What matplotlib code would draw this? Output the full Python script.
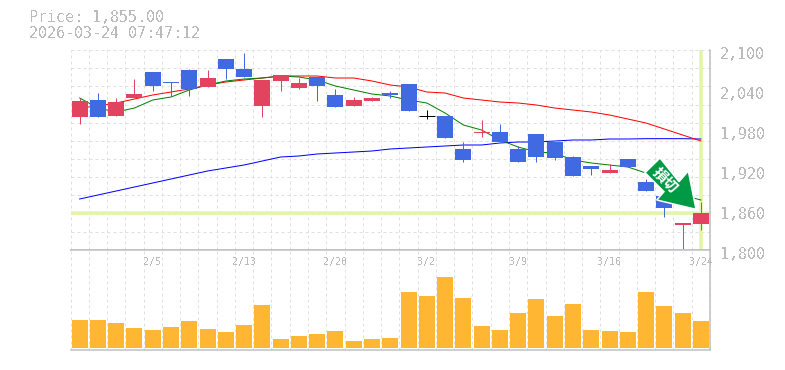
import matplotlib
matplotlib.use("Agg")
import matplotlib.pyplot as plt
from matplotlib.patches import Polygon
import numpy as np

plt.rcParams['font.family'] = ['DejaVu Sans Mono']
plt.rcParams['text.antialiased'] = False

W, H = 785, 370

# Daily prices
opens = [1999.5, 2025, 2001, 2028, 2067, 2052, 2070, 2044.5, 2086.5, 2071.5, 2016, 2053.5,
         2043, 2059.5, 2032.5, 2016, 2023.5, 2035.5, 2049, 2001, 2001, 1951.5, 1975.5, 1977,
         1951.5, 1974, 1962, 1939.5, 1926, 1915.5, 1936.5, 1902, 1881, 1837.5, 1839]
closes = [2023.5, 1999.5, 2022, 2034, 2046, 2050.5, 2041.5, 2058, 2071.5, 2059.5, 2055, 2062.5,
          2050.5, 2046, 2014.5, 2025, 2028, 2032.5, 2008.5, 2001, 1968, 1935, 1977, 1962,
          1932, 1939.5, 1938, 1911, 1921.5, 1920, 1924.5, 1888.5, 1863, 1840.5, 1855]
highs = [2028, 2035.5, 2028, 2056.5, 2067, 2052, 2071.5, 2070, 2086.5, 2095.5, 2055, 2062.5,
         2058, 2059.5, 2041.5, 2029.5, 2029.5, 2038.5, 2049, 2010, 2001, 1962, 1995, 1989,
         1956, 1974, 1962, 1941, 1926, 1929, 1936.5, 1906.5, 1881, 1840.5, 1872]
lows = [1989, 1999.5, 2001, 2028, 2038.5, 2031, 2031, 2044.5, 2056.5, 2059.5, 1999.5, 2038.5,
        2041.5, 2023.5, 2014.5, 2016, 2023.5, 2028, 2008.5, 1996.5, 1968, 1932, 1969.5, 1962,
        1932, 1932, 1935, 1911, 1912.5, 1915.5, 1924.5, 1888.5, 1849.5, 1801.5, 1830]

ma_green = [2028, 2013, 2007, 2013, 2025, 2029.5, 2040, 2047.5, 2053.5, 2056.5, 2058, 2061,
            2059.5, 2055, 2046, 2040, 2034, 2031, 2025, 2020.5, 2005.5, 1987.5, 1980, 1965,
            1954.5, 1947, 1945.5, 1935, 1930.5, 1927.5, 1924.5, 1915.5, 1900.5, 1882.5, 1875]
ma_red = [2013, 2016, 2020.5, 2026.5, 2032.5, 2037, 2041.5, 2047.5, 2052, 2055, 2058, 2061,
          2061, 2061, 2058, 2058, 2053.5, 2047.5, 2044.5, 2037, 2035.5, 2028, 2025, 2022,
          2020.5, 2017.5, 2013, 2010, 2007, 2002.5, 1996.5, 1990.5, 1981.5, 1972.5, 1963.5]
ma_blue = [1876.5, 1882.5, 1888.5, 1894.5, 1900.5, 1906.5, 1912.5, 1918.5, 1923, 1927.5, 1933.5, 1939.5,
           1941, 1944, 1945.5, 1947, 1948.5, 1951.5, 1953, 1954.5, 1956, 1957.5, 1957.5, 1960.5,
           1962, 1962, 1963.5, 1965, 1965, 1966.5, 1966.5, 1967, 1967, 1967, 1966.5]

volumes = [28, 28, 25, 20, 18, 21, 27, 19, 16, 23, 43, 9, 12, 14, 17, 7, 9, 10,
           56, 52, 71, 50, 22, 18, 35, 49, 32, 44, 18, 17, 16, 56, 42, 35, 27]

price_ticks = [2100, 2040, 1980, 1920, 1860, 1800]
price_labels = ['2,100', '2,040', '1,980', '1,920', '1,860', '1,800']
date_pos = [4, 9, 14, 19, 24, 29, 34]
date_labels = ['2/5', '2/13', '2/20', '3/2', '3/9', '3/16', '3/24']
last_price = 1855
last_index = 34

RED = '#E2435F'
BLUE = '#4169E1'
ORANGE = '#FFB733'
YELLOW = '#E3F5AA'
GRAY = '#C0C0C0'
TEXT = '#BBBBBB'
GRID = '#E0E0E0'
PX = 0.72  # one pixel in points at dpi 100


# Makes an axes from pixel positions measured from the top left corner
def pane(fig, left, top, right, bottom):
    return fig.add_axes([left / W, 1 - bottom / H, (right - left) / W, (bottom - top) / H])


def style(ax):
    ax.set_xlim(-0.5, len(volumes) - 0.5)
    ax.set_xticks(np.arange(-0.5, len(volumes), 1))
    ax.tick_params(length=0, labelbottom=False, labelleft=False)
    ax.set_axisbelow(True)
    ax.grid(axis='x', color=GRID, lw=PX, ls=(0, (3, 3)))
    for line in ax.get_xgridlines() + ax.get_ygridlines():
        line.set_clip_on(False)
    for side in ['top', 'left']:
        ax.spines[side].set_visible(False)
    for side in ['bottom', 'right']:
        ax.spines[side].set_color(GRAY)
        ax.spines[side].set_linewidth(PX * 1.5)


fig = plt.figure(figsize=(W / 100, H / 100), dpi=100)
ax = pane(fig, 70.5, 50, 710, 250)
vol = pane(fig, 70.5, 250, 710, 350)

# Price pane
ax.set_ylim(1800, 2100)
ax.set_yticks(np.linspace(1800, 2100, 12))
ax.grid(axis='y', color=GRID, lw=PX, ls=(0, (3, 3)))
style(ax)

ax.axhline(last_price, color=YELLOW, lw=PX * 3.5, zorder=1.5)
ax.axvline(last_index, color=YELLOW, lw=PX * 3.5, zorder=1.5)

x = np.arange(len(opens))
ax.plot(x, ma_blue, color='#0000FF', lw=PX, zorder=2)
ax.plot(x, ma_red, color='#FF0000', lw=PX, zorder=2)
ax.plot(x, ma_green, color='#008000', lw=PX, zorder=2)

colors = []
for o, c in zip(opens, closes):
    if c > o:
        colors.append(RED)
    elif c < o:
        colors.append(BLUE)
    else:
        colors.append('black')

ax.vlines(x, lows, highs, colors=colors, lw=PX, zorder=3)
bottoms = np.minimum(opens, closes)
heights = np.abs(np.array(closes) - np.array(opens))
ax.bar(x, heights, bottom=bottoms, width=0.875, color=colors, linewidth=0, zorder=3)
for i in x:
    if opens[i] == closes[i]:
        ax.hlines(opens[i], i - 0.44, i + 0.44, color='black', lw=PX, zorder=3)

for v, label in zip(price_ticks, price_labels):
    ax.annotate(label, (1, v), xycoords=('axes fraction', 'data'), xytext=(10, -5),
                textcoords='offset pixels', color=TEXT, fontsize=10.8, va='center', ha='left',
                annotation_clip=False)

# Volume pane
vol.set_ylim(-2, 98)
vol.set_yticks([])
style(vol)
vol.spines['top'].set_visible(True)
vol.spines['top'].set_color(GRAY)
vol.spines['top'].set_linewidth(PX * 1.5)
vol.bar(x, volumes, width=0.875, color=ORANGE, linewidth=0, zorder=3)

for i, label in zip(date_pos, date_labels):
    vol.annotate(label, (i, 1), xycoords=('data', 'axes fraction'), xytext=(0, -12),
                 textcoords='offset pixels', color=TEXT, fontsize=7.2, ha='center', va='center',
                 annotation_clip=False, zorder=4)

# Header
fig.text(29 / W, 1 - 18 / H, 'Price: 1,855.00', color=TEXT, fontsize=10.8, va='center')
fig.text(29 / W, 1 - 33 / H, '2026-03-24 07:47:12', color=TEXT, fontsize=10.8, va='center')

# Stop-loss arrow badge
arrow_px = [(660, 158), (645, 172.7), (664, 191.7), (656.7, 200), (696, 209.3), (688.3, 171), (679, 181.7)]
arrow = Polygon([(px / W, 1 - py / H) for px, py in arrow_px], closed=True, transform=fig.transFigure,
                facecolor='#009944', edgecolor='white', lw=PX * 1.5, zorder=5)
fig.add_artist(arrow)
fig.text(665 / W, 1 - 180 / H, '損切', color='white', fontsize=10.5, fontweight='bold', rotation=-45,
         family=['Noto Sans CJK JP', 'DejaVu Sans'], ha='center', va='center',
         rotation_mode='anchor', zorder=6, antialiased=True)

fig.savefig('out.png', dpi=100)
